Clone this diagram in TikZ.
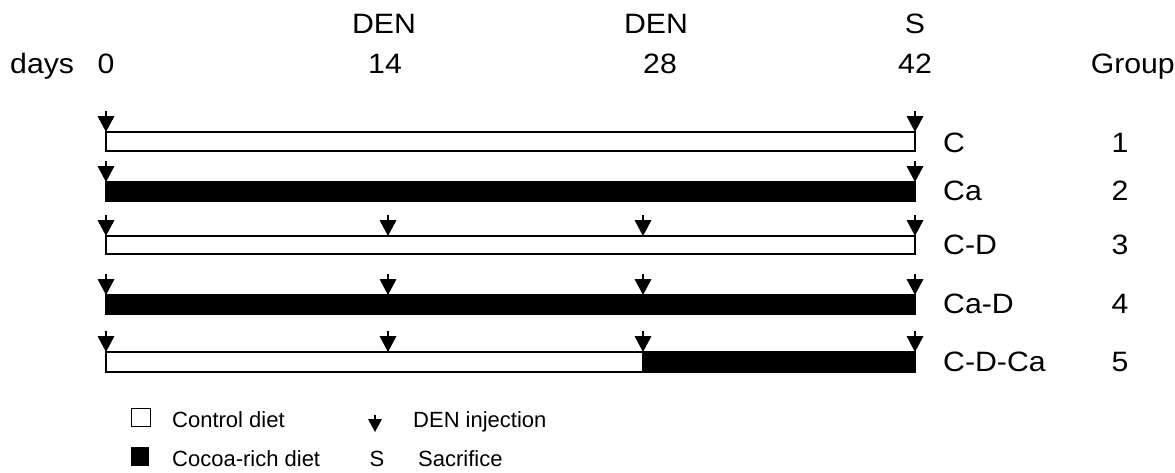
\documentclass[tikz,border=0pt]{standalone}
\usepackage{fontspec}
\setmainfont{Liberation Sans}
\newfontfamily\widefont[FakeStretch=1.08]{Liberation Sans}
\begin{document}
\begin{tikzpicture}[x=1pt,y=-1pt,
  bigtxt/.style={inner sep=0pt,font=\widefont\fontsize{28}{28}\selectfont},
  smalltxt/.style={inner sep=0pt,font=\fontsize{22}{22}\selectfont},
  bar/.style={draw=black,line width=1.2pt},
  ctrl/.style={bar,fill=white},
  cocoa/.style={bar,fill=black},
  denarrow/.pic={
    \fill (-8.5,-16) -- (8.5,-16) -- (0,0) -- cycle;
    \draw[line width=1.5pt] (0,-21) -- (0,-15);
  },
  smallarrow/.pic={
    \fill (-7,-13) -- (7,-13) -- (0,0) -- cycle;
    \draw[line width=1.4pt] (0,-17) -- (0,-12);
  }]
\useasboundingbox (0,0) rectangle (1175,472);

% header: injection / sacrifice days
\node[bigtxt,anchor=base] (den1) at (384,33) {DEN};
\node[bigtxt,anchor=base] (den2) at (656,33) {DEN};
\node[bigtxt,anchor=base] (sac) at (915,33) {S};
\node[bigtxt,anchor=base west] (days) at (10,73) {days};
\node[bigtxt,anchor=base] (d0) at (106,73) {0};
\node[bigtxt,anchor=base] (d14) at (385,73) {14};
\node[bigtxt,anchor=base] (d28) at (660,73) {28};
\node[bigtxt,anchor=base] (d42) at (915,73) {42};
\node[bigtxt,anchor=base east] (grp) at (1175,73) {Group};

% group 1: control diet
\draw[ctrl] (106,132) rectangle (915,151);
\pic at (106,132) {denarrow};
\pic at (915,132) {denarrow};
% group 2: cocoa-rich diet
\draw[cocoa] (106,182) rectangle (915,201);
\pic at (106,182) {denarrow};
\pic at (915,182) {denarrow};
% group 3: control diet + DEN
\draw[ctrl] (106,236) rectangle (915,254);
\foreach \x in {106,388,643,915} \pic at (\x,236) {denarrow};
% group 4: cocoa-rich diet + DEN
\draw[cocoa] (106,295) rectangle (915,314);
\foreach \x in {106,388,643,915} \pic at (\x,295) {denarrow};
% group 5: control diet + DEN, then cocoa-rich diet
\draw[ctrl] (106,352) rectangle (643,372);
\draw[cocoa] (643,352) rectangle (915,372);
\foreach \x in {106,388,643,915} \pic at (\x,352) {denarrow};

% diet labels and group numbers
\node[bigtxt,anchor=base west] (l1) at (943,152) {C};
\node[bigtxt,anchor=base west] (l2) at (943,200) {Ca};
\node[bigtxt,anchor=base west] (l3) at (943,254) {C-D};
\node[bigtxt,anchor=base west] (l4) at (943,313) {Ca-D};
\node[bigtxt,anchor=base west] (l5) at (943,371) {C-D-Ca};
\node[bigtxt,anchor=base] (g1) at (1120,152) {1};
\node[bigtxt,anchor=base] (g2) at (1120,200) {2};
\node[bigtxt,anchor=base] (g3) at (1120,254) {3};
\node[bigtxt,anchor=base] (g4) at (1120,313) {4};
\node[bigtxt,anchor=base] (g5) at (1120,371) {5};

% legend
\draw[line width=1pt,fill=white] (131,408) rectangle (150,426);
\fill (131,447) rectangle (149,466);
\node[smalltxt,anchor=base west] (kctrl) at (172,427) {Control diet};
\node[smalltxt,anchor=base west] (kcocoa) at (172,466) {Cocoa-rich diet};
\pic at (375,432) {smallarrow};
\node[smalltxt,anchor=base west] (kden) at (413,427) {DEN injection};
\node[smalltxt,anchor=base] (ks) at (377,466) {S};
\node[smalltxt,anchor=base west] (ksac) at (418,466) {Sacrifice};
\end{tikzpicture}
\end{document}
